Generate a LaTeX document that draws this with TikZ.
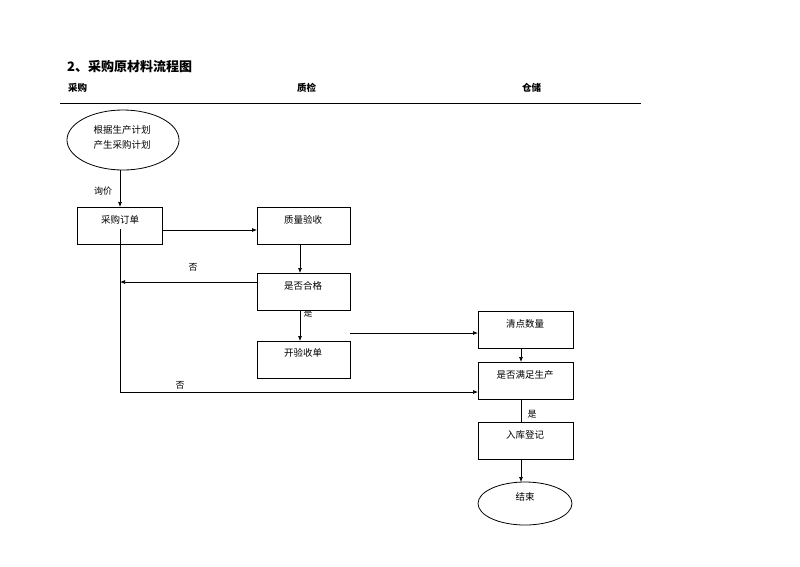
\documentclass[tikz,border=0pt]{standalone}
\usepackage{fontspec}
\newfontfamily\cjk{Noto Sans CJK SC}
\usetikzlibrary{arrows.meta}
\begin{document}
\begin{tikzpicture}[x=1pt,y=-1pt,
  every node/.style={font=\cjk\fontsize{9.5}{11}\selectfont, inner sep=0pt},
  box/.style={draw, line width=0.8pt, fill=white, minimum width=93pt, minimum height=37pt, anchor=north west},
  conn/.style={line width=0.7pt},
  arr/.style={conn, -{Latex[length=5pt,width=4pt]}},
  lbl/.style={font=\cjk\fontsize{9}{11}\selectfont},
  hdr/.style={anchor=west, font=\cjk\bfseries\fontsize{9.5}{11}\selectfont}]
\useasboundingbox (0,0) rectangle (800,566);
% title and header
\node[anchor=west, font=\cjk\bfseries\fontsize{13}{15}\selectfont] (title) at (67,67) {2、采购原材料流程图};
\node[hdr] (h1) at (68,88) {采购};
\node[hdr] (h2) at (297,88) {质检};
\node[hdr] (h3) at (522,88) {仓储};
\coordinate (hl) at (60,103);
\coordinate (hr) at (641,103);
\draw[line width=0.9pt] (hl) -- (hr);
% label partly hidden under a box
\node[lbl] (lshi1) at (308,313) {是};
% shapes
\draw[line width=0.8pt, fill=white] (123,140) ellipse [x radius=56, y radius=30];
\node[align=center] (start) at (122,137) {根据生产计划\\[4pt]产生采购计划};
\coordinate (startS) at (120,170);
\node[box, minimum width=85pt] (po) at (77,207) {};
\node (potxt) at (120,220) {采购订单};
\node[box] (qc) at (257,207) {};
\node (qctxt) at (303,220) {质量验收};
\node[box] (ok) at (257,273) {};
\node (oktxt) at (303,286) {是否合格};
\node[box] (kd) at (257,341) {};
\node (kdtxt) at (303,353) {开验收单};
\node[box, minimum width=95pt] (cnt) at (478,311) {};
\node (cnttxt) at (525,324) {清点数量};
\node[box, minimum width=95pt] (sat) at (478,362) {};
\node (sattxt) at (525,375) {是否满足生产};
\node[box, minimum width=95pt] (reg) at (478,422) {};
\node (regtxt) at (525,435) {入库登记};
\draw[line width=0.8pt, fill=white] (525,503.5) ellipse [x radius=47, y radius=21.5];
\node (end) at (525,497) {结束};
\coordinate (endN) at (521,482);
% connectors
\draw[arr] (startS) -- (po.north -| startS);
\node[lbl] (lxj) at (103,191) {询价};
\draw[arr] (po.east |- 0,230) -- (qc.west |- 0,230);
\draw[arr] (300,244) -- (300,273);
\coordinate (nleft) at (120,282);
\draw[arr] (ok.west |- nleft) -- (nleft);
\node[lbl] (lno1) at (193,267) {否};
\draw[arr] (300,311) -- (300,341);
\coordinate (kdout) at (350,333);
\draw[arr] (kdout) -- (cnt.west |- kdout);
\draw[arr] (521,348) -- (521,362);
\coordinate (potop) at (120,229);
\coordinate (corner) at (120,392);
\draw[arr] (potop) -- (corner) -- (sat.west |- corner);
\node[lbl] (lno2) at (180,385) {否};
\draw[conn] (521,400) -- (521,422);
\node[lbl] (lshi2) at (532,414) {是};
\draw[arr] (521,459) -- (endN);
\end{tikzpicture}
\end{document}
